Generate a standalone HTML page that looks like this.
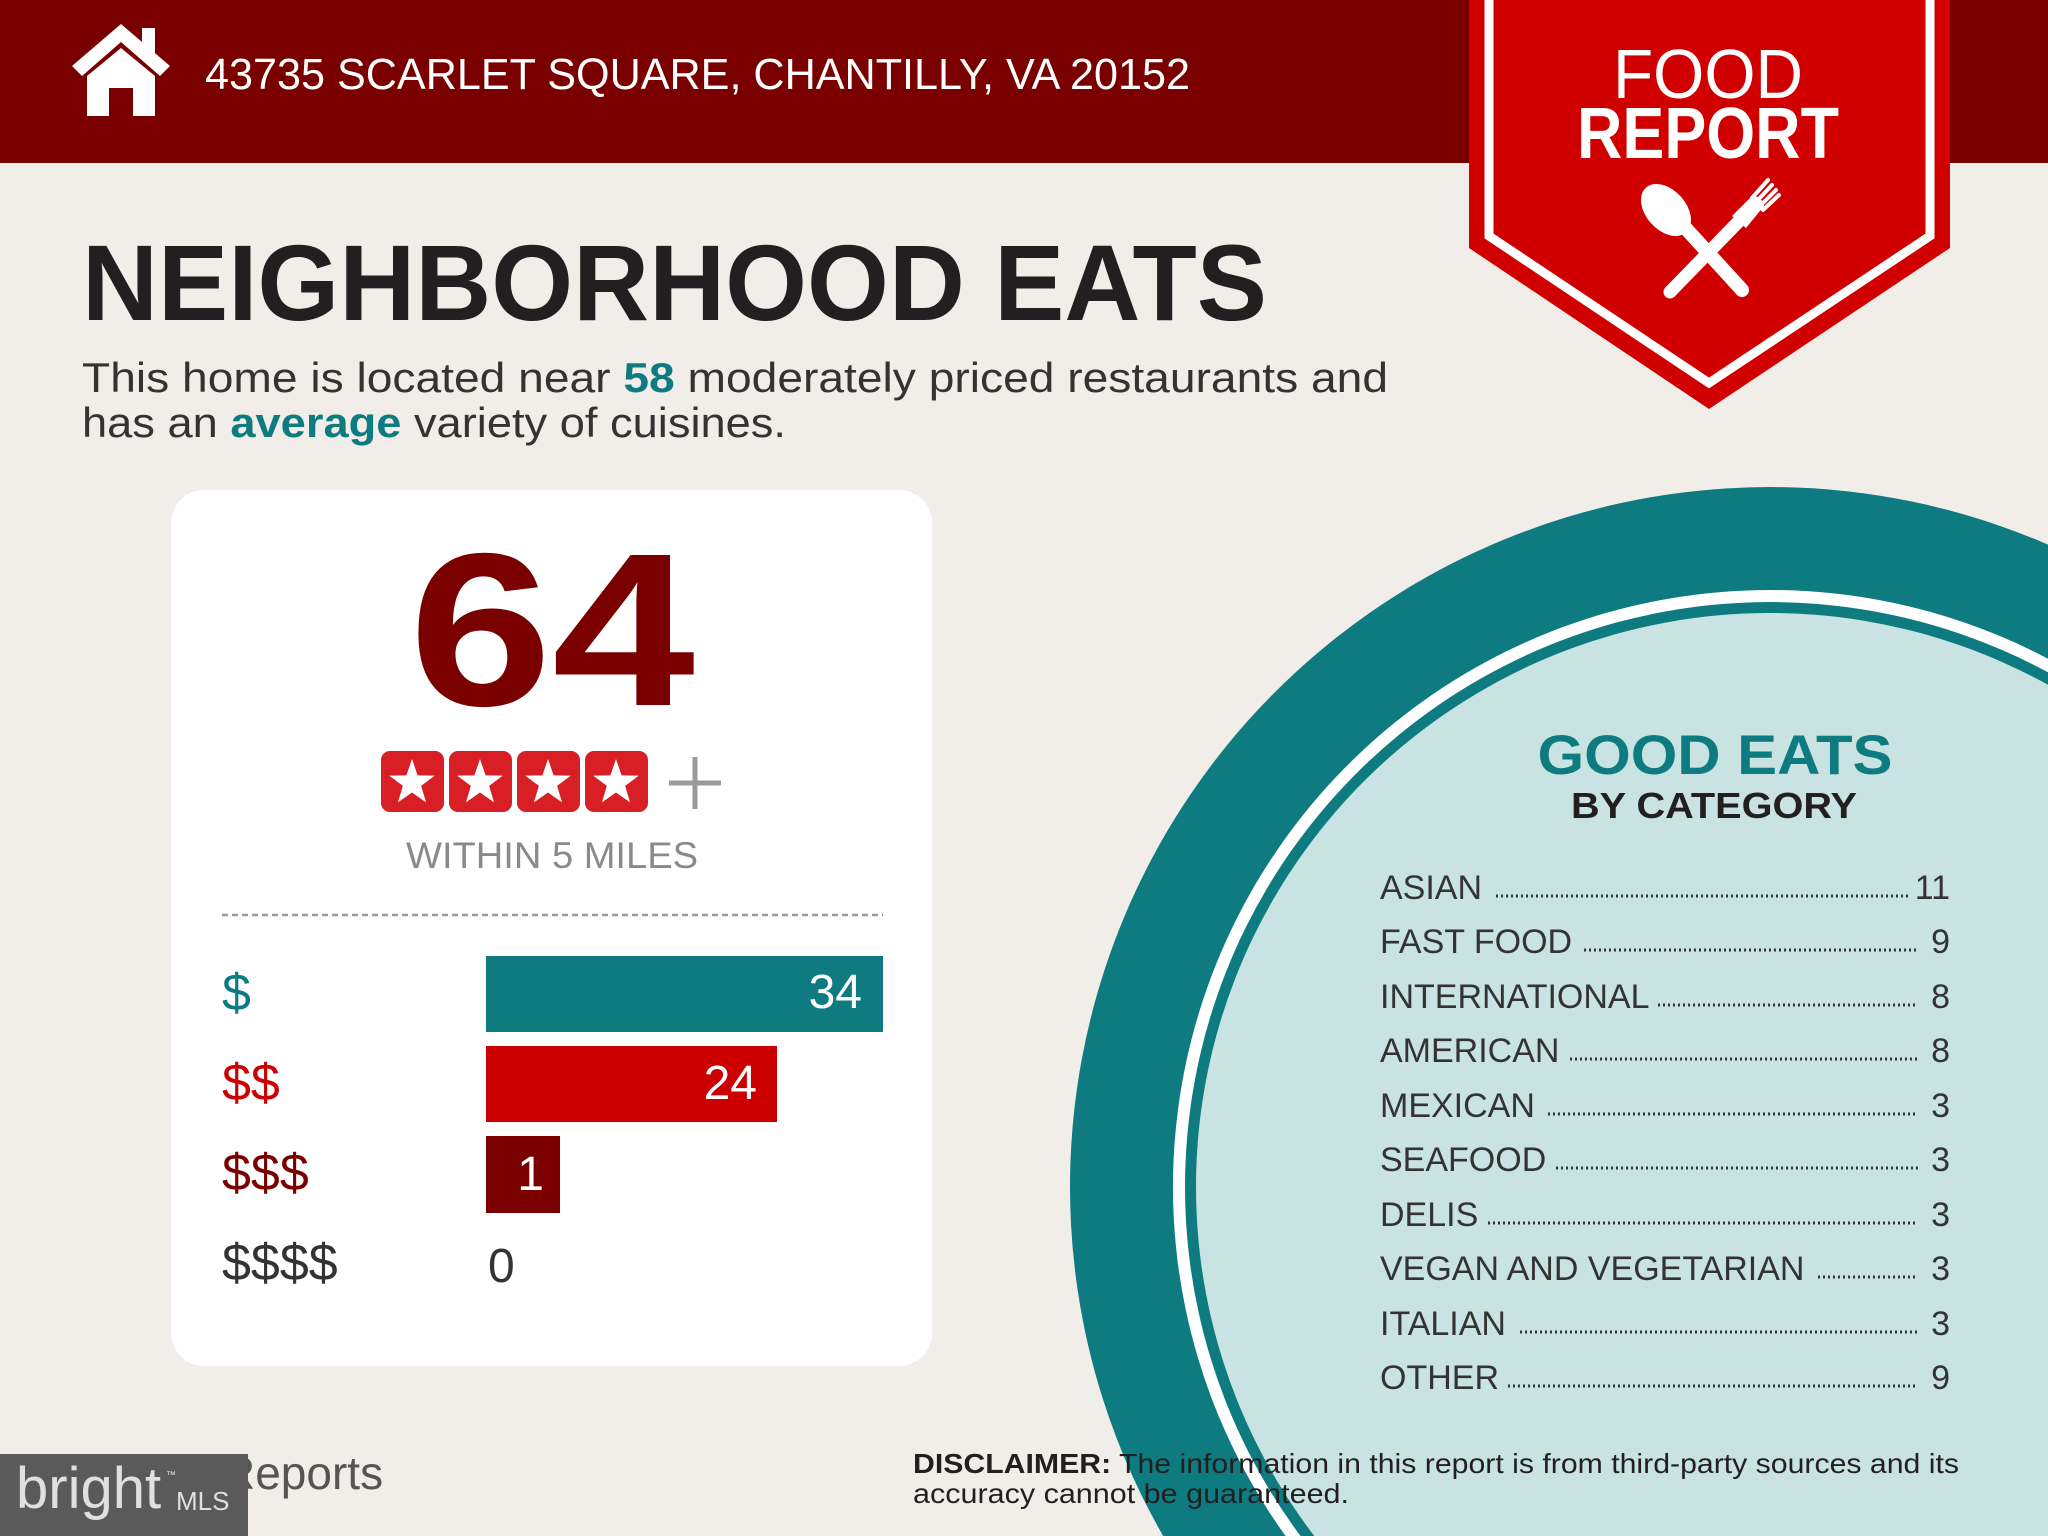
<!DOCTYPE html>
<html><head><meta charset="utf-8"><style>
html,body{margin:0;padding:0;background:#f1ede9;width:2048px;height:1536px;overflow:hidden;}
svg{display:block;}
text{font-family:"Liberation Sans",sans-serif;}
</style></head><body>
<svg width="2048" height="1536" viewBox="0 0 2048 1536" xmlns="http://www.w3.org/2000/svg">
<defs>
<g id="star"><polygon fill="#fff" points="0,-24 5.6,-7.6 22.8,-7.4 9.1,2.9 14.1,19.4 0,9.5 -14.1,19.4 -9.1,2.9 -22.8,-7.4 -5.6,-7.6"/></g>
</defs>
<rect width="2048" height="1536" fill="#f1ede9"/>
<!-- header -->
<rect x="0" y="0" width="2048" height="163" fill="#7a0000"/>
<g fill="#fff">
<polygon points="121,24 72,66 82,76 121,42 160,76 170,66"/>
<rect x="142" y="28" width="13" height="26"/>
<path d="M87,76 L121,48 L155,76 L155,116 L133,116 L133,88 L109,88 L109,116 L87,116 Z"/>
</g>
<text x="205" y="89" font-size="44" fill="#fff" textLength="985" lengthAdjust="spacingAndGlyphs">43735 SCARLET SQUARE, CHANTILLY, VA 20152</text>
<!-- badge -->
<polygon points="1469,0 1950,0 1950,248 1709,409 1469,248" fill="#d10000"/>
<polyline points="1489,0 1489,236 1709,383 1930,236 1930,0" fill="none" stroke="#fff" stroke-width="9"/>
<text x="1708" y="98" font-size="70" fill="#fff" text-anchor="middle" textLength="190" lengthAdjust="spacingAndGlyphs">FOOD</text>
<text x="1708" y="158" font-size="72" font-weight="bold" fill="#fff" text-anchor="middle" textLength="262" lengthAdjust="spacingAndGlyphs">REPORT</text>
<g fill="#fff" stroke="#fff" stroke-linecap="round">
<line x1="1680" y1="222" x2="1742" y2="290" stroke-width="14"/>
<ellipse cx="1666" cy="210" rx="20" ry="30" transform="rotate(-42 1666 210)" stroke="none"/>
<line x1="1742" y1="218" x2="1670" y2="292" stroke-width="13"/>
<path d="M1732,216 L1752,196 Q1762,196 1764,206 L1746,228 Z" stroke="none"/>
<line x1="1752" y1="198" x2="1768" y2="180" stroke-width="4"/>
<line x1="1756" y1="202" x2="1772" y2="185" stroke-width="4"/>
<line x1="1760" y1="206" x2="1776" y2="190" stroke-width="4"/>
<line x1="1763" y1="210" x2="1779" y2="195" stroke-width="4"/>
</g>
<!-- title -->
<text x="82" y="320" font-size="108" font-weight="bold" fill="#231f20" textLength="1185" lengthAdjust="spacingAndGlyphs">NEIGHBORHOOD EATS</text>
<text x="82" y="392" font-size="42" fill="#333" textLength="1306" lengthAdjust="spacingAndGlyphs">This home is located near <tspan font-weight="bold" fill="#0e7b80">58</tspan> moderately priced restaurants and</text>
<text x="82" y="437" font-size="42" fill="#333" textLength="704" lengthAdjust="spacingAndGlyphs">has an <tspan font-weight="bold" fill="#0e7b80">average</tspan> variety of cuisines.</text>
<!-- card -->
<rect x="171" y="490" width="761" height="876" rx="33" fill="#fff"/>
<text x="552" y="705" font-size="218" font-weight="bold" fill="#7a0000" text-anchor="middle" textLength="286" lengthAdjust="spacingAndGlyphs">64</text>
<g fill="#d81f26">
<rect x="381" y="751" width="63" height="61" rx="9"/>
<rect x="449" y="751" width="63" height="61" rx="9"/>
<rect x="517" y="751" width="63" height="61" rx="9"/>
<rect x="585" y="751" width="63" height="61" rx="9"/>
</g>
<use href="#star" x="412" y="783"/><use href="#star" x="480" y="783"/><use href="#star" x="548" y="783"/><use href="#star" x="616" y="783"/>
<g stroke="#9a9a9a" stroke-width="5"><line x1="669" y1="783" x2="721" y2="783"/><line x1="695" y1="757" x2="695" y2="809"/></g>
<text x="552" y="868" font-size="37" fill="#8a8a8a" text-anchor="middle" textLength="292" lengthAdjust="spacingAndGlyphs">WITHIN 5 MILES</text>
<line x1="222" y1="915" x2="883" y2="915" stroke="#999" stroke-width="2.5" stroke-dasharray="6,4"/>
<rect x="486" y="956" width="397" height="76" fill="#0e7b80"/>
<rect x="486" y="1046" width="291" height="76" fill="#cc0000"/>
<rect x="486" y="1136" width="74" height="77" fill="#7a0000"/>
<text x="862" y="1008" font-size="48" fill="#fff" text-anchor="end">34</text>
<text x="757" y="1099" font-size="48" fill="#fff" text-anchor="end">24</text>
<text x="544" y="1190" font-size="48" fill="#fff" text-anchor="end">1</text>
<text x="488" y="1282" font-size="48" fill="#333">0</text>
<text x="222" y="1010" font-size="52" fill="#0e7b80">$</text>
<text x="222" y="1100" font-size="52" fill="#cc0000">$$</text>
<text x="222" y="1190" font-size="52" fill="#7a0000">$$$</text>
<text x="222" y="1280" font-size="52" fill="#333">$$$$</text>
<!-- footer left -->
<text x="222" y="1489" font-size="46" fill="#555">Reports</text>
<rect x="0" y="1454" width="248" height="82" fill="#5a5a5a"/>
<text x="16" y="1508" font-size="58" fill="#e0e0e0" font-family="Liberation Serif, serif">bright</text>
<text x="176" y="1510" font-size="26" fill="#e0e0e0">MLS</text>
<text x="166" y="1478" font-size="10" fill="#e0e0e0">™</text>
<!-- circle (as clipped arcs) -->
<path d="M1163.2,1536 A700,700 0 0 1 2048,544.6 L2048,1536 Z" fill="#0e7b80"/>
<path d="M1285.6,1536 A597,597 0 0 1 2048,658.7 L2048,1536 Z" fill="#fff"/>
<path d="M1300.5,1536 A585,585 0 0 1 2048,672.3 L2048,1536 Z" fill="#0e7b80"/>
<path d="M1314.3,1536 A574,574 0 0 1 2048,684.8 L2048,1536 Z" fill="#c8e3e1"/>
<text x="1715" y="774" font-size="56" font-weight="bold" fill="#0e7b80" text-anchor="middle" textLength="355" lengthAdjust="spacingAndGlyphs">GOOD EATS</text>
<text x="1714" y="818" font-size="36" font-weight="bold" fill="#231f20" text-anchor="middle" textLength="286" lengthAdjust="spacingAndGlyphs">BY CATEGORY</text>
<g font-size="34" fill="#333">
<text x="1380" y="899">ASIAN</text><text x="1950" y="899" text-anchor="end">11</text>
<text x="1380" y="953">FAST FOOD</text><text x="1950" y="953" text-anchor="end">9</text>
<text x="1380" y="1008">INTERNATIONAL</text><text x="1950" y="1008" text-anchor="end">8</text>
<text x="1380" y="1062">AMERICAN</text><text x="1950" y="1062" text-anchor="end">8</text>
<text x="1380" y="1117">MEXICAN</text><text x="1950" y="1117" text-anchor="end">3</text>
<text x="1380" y="1171">SEAFOOD</text><text x="1950" y="1171" text-anchor="end">3</text>
<text x="1380" y="1226">DELIS</text><text x="1950" y="1226" text-anchor="end">3</text>
<text x="1380" y="1280">VEGAN AND VEGETARIAN</text><text x="1950" y="1280" text-anchor="end">3</text>
<text x="1380" y="1335">ITALIAN</text><text x="1950" y="1335" text-anchor="end">3</text>
<text x="1380" y="1389">OTHER</text><text x="1950" y="1389" text-anchor="end">9</text>
</g>
<g stroke="#333" stroke-width="3" stroke-dasharray="2,3">
<line x1="1496" y1="896" x2="1910" y2="896"/>
<line x1="1584" y1="950" x2="1918" y2="950"/>
<line x1="1658" y1="1005" x2="1918" y2="1005"/>
<line x1="1570" y1="1059" x2="1918" y2="1059"/>
<line x1="1548" y1="1114" x2="1918" y2="1114"/>
<line x1="1556" y1="1168" x2="1918" y2="1168"/>
<line x1="1488" y1="1223" x2="1918" y2="1223"/>
<line x1="1818" y1="1277" x2="1918" y2="1277"/>
<line x1="1520" y1="1332" x2="1918" y2="1332"/>
<line x1="1508" y1="1386" x2="1918" y2="1386"/>
</g>
<text x="913" y="1473" font-size="28" fill="#231f20" textLength="1046" lengthAdjust="spacingAndGlyphs"><tspan font-weight="bold">DISCLAIMER:</tspan> The information in this report is from third-party sources and its</text>
<text x="913" y="1503" font-size="28" fill="#231f20" textLength="436" lengthAdjust="spacingAndGlyphs">accuracy cannot be guaranteed.</text>
</svg>
</body></html>
